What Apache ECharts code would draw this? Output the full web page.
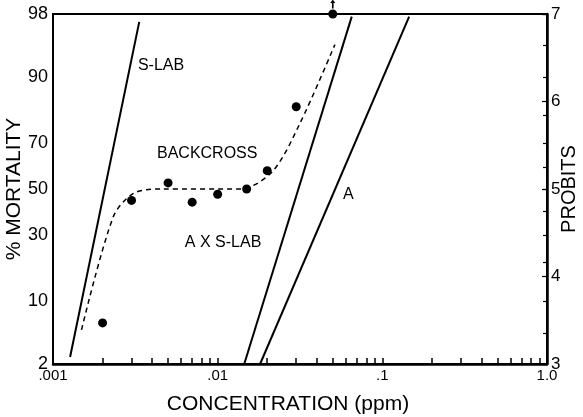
<!DOCTYPE html>
<html>
<head>
<meta charset="utf-8">
<script src="https://cdn.jsdelivr.net/npm/echarts@6/dist/echarts.min.js"></script>
<style>
  html, body { margin: 0; padding: 0; background: #fff; }
  #chart { width: 583px; height: 417px; }
</style>
</head>
<body>
<div id="chart"></div>
<script>
// concentration (ppm) / probit pairs
const sLab = [[0.00127, 3.08], [0.00334, 6.91]];
const axsLab = [[0.0145, 3.0], [0.0652, 6.97]];
const strainA = [[0.0181, 3.0], [0.1455, 6.97]];
const backcrossConc = [0.002, 0.003, 0.005, 0.007, 0.01, 0.015, 0.02, 0.03, 0.05];
const backcrossProbit = [3.47, 4.87, 5.07, 4.85, 4.94, 5.0, 5.21, 5.94, 7.0];
const offScaleConc = [0.05]; // mortality above 98%, arrow upward
const curveConc = [0.00149, 0.00232, 0.00308, 0.0045, 0.0137, 0.0215, 0.0316, 0.0515];
const curveProbit = [3.39, 4.68, 4.95, 5.0, 5.0, 5.2, 5.75, 6.65];

// axis ticks
const concTicks = [];
[0.001, 0.01, 0.1].forEach(d => { for (let k = 1; k <= 9; k++) concTicks.push(d * k); });
concTicks.push(1);
const concLabels = [0.001, 0.01, 0.1, 1];
const concLabelText = ['.001', '.01', '.1', '1.0'];
const mortalityTicks = [2, 5, 10, 20, 30, 40, 50, 60, 70, 80, 90, 95, 98];
const mortalityLabels = [2, 10, 30, 50, 70, 90, 98];
const probitLabels = [3, 4, 5, 6, 7];

// annotation text, placed at (conc, probit)
const notes = [
  { name: 'S-LAB', value: [0.00328, 6.41] },
  { name: 'BACKCROSS', value: [0.00428, 5.40] },
  { name: 'A X S-LAB', value: [0.00632, 4.39] },
  { name: 'A', value: [0.0577, 4.94] }
];

const FONT = 'Liberation Sans';
const lg = v => Math.log10(v);

// percent mortality -> probit
function normCdf(z) {
  const t = 1 / (1 + 0.3275911 * Math.abs(z) / Math.SQRT2);
  const y = 1 - ((((1.061405429 * t - 1.453152027) * t + 1.421413741) * t - 0.284496736) * t + 0.254829592) * t * Math.exp(-z * z / 2);
  return z >= 0 ? (1 + y) / 2 : (1 - y) / 2;
}
function probit(pct) {
  let lo = -6, hi = 6;
  for (let i = 0; i < 60; i++) {
    const m = (lo + hi) / 2;
    if (normCdf(m) < pct / 100) lo = m; else hi = m;
  }
  return Math.min(7, Math.max(3, 5 + (lo + hi) / 2));
}
const mortLabelMap = {};
mortalityLabels.forEach(p => { mortLabelMap[probit(p).toFixed(4)] = String(p); });
const concLabelMap = {};
concLabels.forEach((c, i) => { concLabelMap[lg(c).toFixed(4)] = concLabelText[i]; });

const toXY = arr => arr.map(d => [lg(d[0]), d[1]]);
const solidLine = (name, data) => ({
  name: name, type: 'line', yAxisIndex: 1, data: toXY(data),
  symbol: 'none', clip: false, silent: true,
  lineStyle: { color: '#000', width: 2 }
});

const chart = echarts.init(document.getElementById('chart'));
chart.setOption({
  backgroundColor: '#fff',
  animation: false,
  textStyle: { fontFamily: FONT, color: '#000' },
  grid: {
    left: 53, right: 36, top: 14, bottom: 53,
    outerBoundsMode: 'none', containLabel: false,
    show: true, borderColor: '#000', borderWidth: 2, backgroundColor: 'transparent'
  },
  xAxis: {
    type: 'value', min: -3, max: 0,
    name: 'CONCENTRATION (ppm)', nameLocation: 'middle', nameGap: 30, nameMoveOverlap: false,
    nameTextStyle: { fontSize: 21, color: '#000', fontFamily: FONT, padding: [0, 24, 0, 0] },
    axisLine: { show: true, lineStyle: { color: '#000', width: 2.5 } },
    axisTick: { show: true, inside: true, length: 6, customValues: concTicks.map(lg), lineStyle: { color: '#000', width: 1.5 } },
    axisLabel: {
      customValues: concLabels.map(lg), margin: 4, fontSize: 15, color: '#000', fontFamily: FONT,
      formatter: v => concLabelMap[Number(v).toFixed(4)] || ''
    },
    splitLine: { show: false }
  },
  yAxis: [
    {
      type: 'value', min: 3, max: 7, position: 'left',
      name: '% MORTALITY', nameLocation: 'middle', nameGap: 28, nameRotate: 90, nameMoveOverlap: false,
      nameTextStyle: { fontSize: 21, color: '#000', fontFamily: FONT },
      axisLine: { show: true, lineStyle: { color: '#000', width: 1.5 } },
      axisTick: { show: true, inside: false, length: 4, customValues: mortalityTicks.map(probit), lineStyle: { color: '#000', width: 1.2 } },
      axisLabel: {
        customValues: mortalityLabels.map(probit), margin: 5, fontSize: 18, color: '#000', fontFamily: FONT,
        formatter: v => mortLabelMap[Number(v).toFixed(4)] || ''
      },
      splitLine: { show: false }
    },
    {
      type: 'value', min: 3, max: 7, position: 'right',
      name: 'PROBITS', nameLocation: 'middle', nameGap: 12, nameRotate: 90, nameMoveOverlap: false,
      nameTextStyle: { fontSize: 20, color: '#000', fontFamily: FONT },
      axisLine: { show: true, lineStyle: { color: '#000', width: 2.5 } },
      axisTick: { show: true, inside: true, length: 5, customValues: probitLabels, lineStyle: { color: '#000', width: 1.2 } },
      axisLabel: { customValues: probitLabels, margin: 4, fontSize: 17, color: '#000', fontFamily: FONT },
      splitLine: { show: false }
    }
  ],
  series: [
    solidLine('S-LAB', sLab),
    solidLine('A X S-LAB', axsLab),
    solidLine('A', strainA),
    {
      name: 'Backcross fit', type: 'line', yAxisIndex: 1, silent: true,
      data: curveConc.map((c, i) => [lg(c), curveProbit[i]]),
      symbol: 'none', smooth: 0.3,
      lineStyle: { color: '#000', width: 1.5, type: [5, 4] }
    },
    {
      name: 'Backcross', type: 'scatter', yAxisIndex: 1, clip: false,
      data: backcrossConc.map((c, i) => [lg(c), backcrossProbit[i]]),
      symbol: 'circle', symbolSize: 9,
      itemStyle: { color: '#000', opacity: 1 }
    },
    {
      name: 'Off scale', type: 'scatter', yAxisIndex: 1, clip: false,
      data: offScaleConc.map(c => [lg(c), 7]),
      symbol: 'path://M0,0 L3,4 L1,4 L1,10 L-1,10 L-1,4 L-3,4 Z',
      symbolSize: [5, 9], symbolOffset: [0, -10],
      itemStyle: { color: '#000', opacity: 1 }
    },
    {
      name: 'Notes', type: 'scatter', yAxisIndex: 1, silent: true,
      data: notes.map(n => ({ name: n.name, value: [lg(n.value[0]), n.value[1]] })),
      symbolSize: 0,
      itemStyle: { opacity: 1 },
      label: {
        show: true, position: 'right', distance: 0, formatter: '{b}',
        fontSize: 16, color: '#000', fontFamily: FONT
      }
    }
  ]
});
</script>
</body>
</html>
